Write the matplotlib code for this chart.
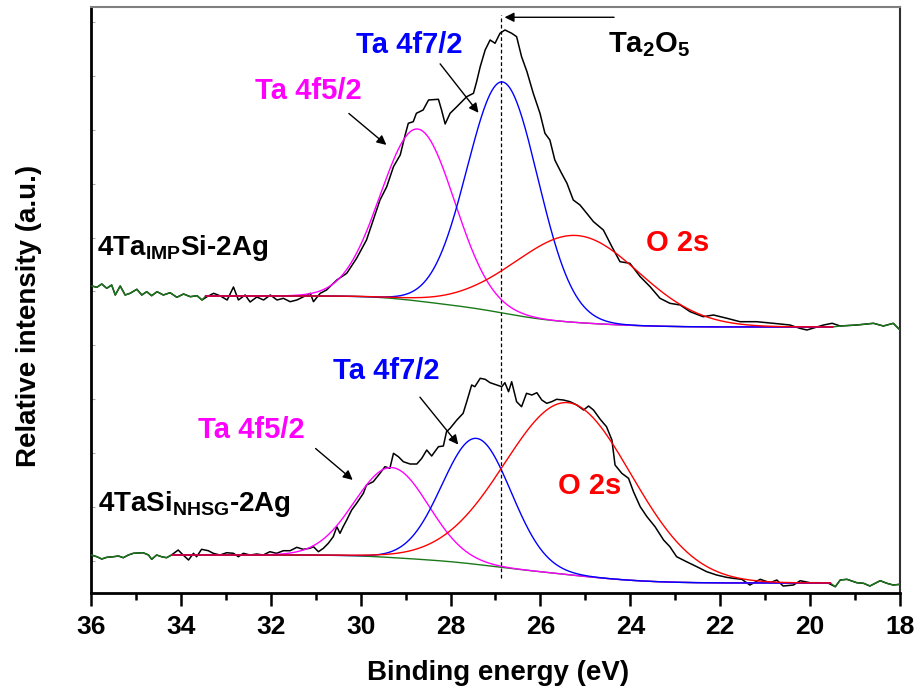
import numpy as np
import matplotlib
matplotlib.use("Agg")
import matplotlib.pyplot as plt

plt.rcParams['font.family'] = ['Liberation Sans', 'DejaVu Sans']
plt.rcParams['font.weight'] = 'bold'
plt.rcParams['mathtext.fontset'] = 'custom'
plt.rcParams['mathtext.rm'] = 'Liberation Sans:bold'
plt.rcParams['mathtext.it'] = 'Liberation Sans:bold'
plt.rcParams['mathtext.bf'] = 'Liberation Sans:bold'
plt.rcParams['mathtext.default'] = 'rm'

# ---- measured spectra (binding energy eV, intensity a.u.) ----
# 4Ta_IMP Si-2Ag (upper trace, plotted with offset)
imp_energy = [35.98, 35.87, 35.76, 35.65, 35.54, 35.46, 35.35, 35.24, 35.13, 34.98,
              34.87, 34.76, 34.65, 34.53, 34.39, 34.24, 34.09, 33.94, 33.79, 33.64,
              33.53, 33.42, 33.27, 33.12, 32.97, 32.83, 32.72, 32.57, 32.46, 32.31,
              32.16, 32.01, 31.86, 31.72, 31.57, 31.42, 31.27, 31.12, 31.05, 30.90,
              30.76, 30.53, 30.31, 30.09, 29.87, 29.72, 29.57, 29.42, 29.27, 29.12,
              29.01, 28.94, 28.83, 28.76, 28.61, 28.49, 28.27, 28.20, 28.12, 28.01,
              27.86, 27.64, 27.49, 27.42, 27.34, 27.23, 27.12, 27.01, 26.90, 26.79,
              26.64, 26.53, 26.42, 26.30, 26.16, 26.01, 25.90, 25.79, 25.68, 25.53,
              25.41, 25.27, 25.12, 24.97, 24.82, 24.60, 24.41, 24.23, 24.01, 23.78,
              23.56, 23.34, 23.12, 22.89, 22.67, 22.38, 22.15, 21.85, 21.56, 21.19,
              20.82, 20.45, 20.23, 20.07, 19.70, 19.51, 19.33, 18.96, 18.59, 18.37,
              18.15, 18.00]
imp_counts = [49, 47.7, 51, 46.7, 50, 40, 49, 40, 41.7, 45.7,
              40, 43.3, 39.3, 43.3, 40, 42.3, 37.7, 41, 38.3, 39.3,
              35, 38.3, 41.7, 39, 35, 48, 35, 40, 33, 38,
              35, 40, 35, 36.7, 33.3, 35, 38.3, 41.7, 33.3, 41.7,
              45, 55, 61.7, 76.7, 95, 115, 135, 148.3, 168.3, 180,
              200, 211.7, 213.3, 221.7, 225, 235, 235.7, 225, 211, 221.7,
              228.3, 238.3, 241.7, 253.3, 268.3, 285, 295, 291.7, 301.7, 305,
              301.7, 298.3, 278.3, 263.3, 241.7, 221.7, 201.7, 195, 175, 161.7,
              151.7, 135, 130, 121.7, 113.3, 105, 88.3, 73.3, 71.7, 58.3,
              48.3, 36.7, 31.7, 30, 23.3, 18.3, 20, 16.7, 13.3, 13.3,
              11.7, 10, 6.7, 5, 10, 11.7, 9, 10, 11.7, 9,
              11.7, 5]

# 4TaSi_NHSG-2Ag (lower trace)
nhsg_energy = [35.99, 35.87, 35.76, 35.65, 35.50, 35.39, 35.28, 35.17, 35.06, 34.84,
               34.72, 34.65, 34.54, 34.43, 34.32, 34.21, 34.06, 33.95, 33.83, 33.72,
               33.65, 33.54, 33.39, 33.28, 33.13, 32.98, 32.83, 32.72, 32.61, 32.46,
               32.31, 32.17, 32.02, 31.87, 31.72, 31.57, 31.42, 31.28, 31.13, 31.05,
               30.94, 30.83, 30.72, 30.61, 30.53, 30.46, 30.39, 30.31, 30.20, 30.09,
               29.94, 29.87, 29.72, 29.57, 29.46, 29.35, 29.27, 29.16, 29.05, 28.90,
               28.75, 28.64, 28.53, 28.42, 28.27, 28.16, 28.09, 28.01, 27.86, 27.72,
               27.64, 27.53, 27.46, 27.34, 27.23, 27.12, 26.97, 26.86, 26.79, 26.71,
               26.64, 26.53, 26.42, 26.31, 26.19, 26.08, 25.97, 25.86, 25.75, 25.64,
               25.49, 25.34, 25.19, 25.04, 24.93, 24.82, 24.67, 24.53, 24.41, 24.34,
               24.19, 24.04, 23.93, 23.78, 23.63, 23.45, 23.26, 23.12, 22.97, 22.75,
               22.52, 22.30, 22.08, 21.86, 21.71, 21.52, 21.34, 21.11, 20.89, 20.74,
               20.60, 20.37, 20.22, 20.00, 19.78, 19.59, 19.44, 19.33, 19.18, 18.96,
               18.81, 18.67, 18.44, 18.29, 18.15, 18.00]
nhsg_counts = [38, 36.3, 34, 35.7, 36.3, 37, 35.3, 38, 39.7, 40.3,
               38, 33.7, 38, 36.3, 35.3, 38, 43, 38, 33, 39.7,
               36.3, 43.7, 42.3, 39.7, 38, 40.3, 39.7, 36.3, 39.7, 38,
               39, 38, 41.3, 39.7, 42.3, 42.3, 45.7, 43.7, 44.7, 46.3,
               41.3, 44.7, 49.7, 56.3, 66.3, 59.7, 66.3, 73, 83, 89.7,
               99.7, 108, 111.3, 119.7, 126.3, 124.7, 139.7, 136.3, 131.3, 129,
               129, 134.7, 143, 137, 146.3, 147, 161.3, 164.7, 173, 179.7,
               191.3, 208, 206.3, 214.7, 213.7, 210.3, 208, 206.3, 210.3, 201.3,
               211.3, 191.3, 186.3, 199.7, 198, 200.3, 193, 189.7, 191.3, 193.7,
               193, 191.3, 188, 183, 187, 183, 173.7, 166.3, 153, 128,
               119.7, 114.7, 101.3, 86.3, 76.3, 66.3, 53, 46.3, 36.3, 31.3,
               26.3, 21.3, 18, 15.7, 14.7, 13.7, 8, 13.7, 10.3, 13,
               7, 8, 12.3, 10.3, 10.3, 9.7, 6.3, 13, 13.7, 10.3,
               9.7, 7, 12.3, 9.7, 8, 8.7]

# ---- fitted components: (centre eV, height, FWHM eV) ----
peak_names = ['Ta 4f5/2', 'Ta 4f7/2', 'O 2s']
peak_colors = ['#ff00ff', '#0000ff', '#ff0000']
imp_centers = [28.73, 26.84, 25.19]
imp_heights = [172, 231, 87]
imp_fwhm = [1.93, 1.85, 3.27]
nhsg_centers = [29.31, 27.42, 25.38]
nhsg_heights = [90, 126, 172]
nhsg_fwhm = [1.93, 1.81, 3.34]

# Shirley background end levels (high-BE side, low-BE side) and fit window
imp_bg_levels = (39, 8)
nhsg_bg_levels = (38, 10)
imp_window = (19.5, 33.45)
nhsg_window = (19.55, 34.2)

imp_offset = 258
ta2o5_position = 26.87


def components(centers, heights, fwhm, e):
    out = []
    for c, h, w in zip(centers, heights, fwhm):
        s = w / 2.3548
        out.append(h * np.exp(-0.5 * ((e - c) / s) ** 2))
    return out


def draw_spectrum(ax, energy, counts, centers, heights, fwhm, levels, window, offset):
    energy = np.asarray(energy)
    counts = np.asarray(counts) + offset
    lo, hi = window
    e = np.linspace(lo, hi, 700)
    comps = components(centers, heights, fwhm, e)
    total = np.sum(comps, axis=0)
    cum = np.cumsum(total)
    cum = cum / cum[-1]
    bg = levels[1] + (levels[0] - levels[1]) * cum + offset

    ax.plot(energy, counts, color='black', lw=1.1, zorder=2)

    # baseline: raw data outside the fit window, Shirley inside it
    left = energy > hi
    right = energy < lo
    gx = np.concatenate([energy[left], e[::-1], energy[right]])
    gy = np.concatenate([counts[left], bg[::-1], counts[right]])
    ax.plot(gx, gy, color='#1a7a1a', lw=1.0, zorder=3)

    for comp, col in zip(comps, peak_colors):
        ax.plot(e, comp + bg, color=col, lw=1.0, zorder=4)


fig = plt.figure(figsize=(9.21, 6.91), dpi=100)
ax = fig.add_axes([0.0988, 0.1418, 0.8784, 0.8481])

draw_spectrum(ax, imp_energy, imp_counts, imp_centers, imp_heights, imp_fwhm,
              imp_bg_levels, imp_window, imp_offset)
draw_spectrum(ax, nhsg_energy, nhsg_counts, nhsg_centers, nhsg_heights, nhsg_fwhm,
              nhsg_bg_levels, nhsg_window, 0)

ax.axvline(ta2o5_position, ymin=0.026, ymax=0.986, color='black', lw=0.9,
           ls=(0, (3, 2)), zorder=1)

ax.set_xlim(36, 18)
ax.set_ylim(0, 586)
ax.set_xticks(np.arange(36, 17, -2))
ax.set_xticks(np.arange(35, 18, -2), minor=True)
ax.set_yticks(np.arange(32, 586, 53.9))
ax.tick_params(axis='x', which='major', direction='out', length=9, width=1.8,
               labelsize=19, pad=7)
ax.tick_params(axis='x', which='minor', direction='out', length=5, width=1.8)
ax.tick_params(axis='y', direction='in', length=3, width=0.8, color='#aaaaaa',
               labelleft=False)
for lab in ax.get_xticklabels():
    lab.set_fontweight('bold')

ax.spines['left'].set_linewidth(2)
ax.spines['bottom'].set_linewidth(2)
ax.spines['top'].set_color('#808080')
ax.spines['top'].set_linewidth(1.5)
ax.spines['right'].set_color('#303030')
ax.spines['right'].set_linewidth(1.5)

ax.set_xlabel('Binding energy (eV)', fontsize=20, fontweight='bold')
ax.set_ylabel('Relative intensity (a.u.)', fontsize=20, fontweight='bold')
ax.xaxis.set_label_coords(0.503, -0.115)
ax.yaxis.set_label_coords(-0.06, 0.473)

# labels and arrows
arrow = dict(arrowstyle='-|>', color='black', lw=1.0, mutation_scale=14)
txt = dict(fontsize=21, fontweight='bold', va='baseline')

ax.text(28.92, 540, peak_names[1], color=peak_colors[1], ha='center', **txt)
ax.annotate('', xy=(27.34, 478), xytext=(28.27, 531.3), arrowprops=arrow)
ax.text(31.16, 494, peak_names[0], color=peak_colors[0], ha='center', **txt)
ax.annotate('', xy=(29.38, 446.3), xytext=(30.31, 481.3), arrowprops=arrow)
ax.text(22.95, 342, peak_names[2], color=peak_colors[2], ha='center', **txt)
ax.text(24.49, 541, r'Ta$_2$O$_5$', color='black', ha='left', **txt)
ax.annotate('', xy=(26.86, 575.7), xytext=(24.30, 575.7), arrowprops=arrow)

ax.text(29.42, 214, peak_names[1], color=peak_colors[1], ha='center', **txt)
ax.annotate('', xy=(27.79, 146.3), xytext=(28.72, 198), arrowprops=arrow)
ax.text(32.44, 155, peak_names[0], color=peak_colors[0], ha='center', **txt)
ax.annotate('', xy=(30.13, 111.3), xytext=(31.05, 146.3), arrowprops=arrow)
ax.text(24.91, 99, peak_names[2], color=peak_colors[2], ha='center', **txt)

ax.text(35.87, 338, r'4Ta$_{IMP}$Si-2Ag', fontsize=20, fontweight='bold',
        ha='left', va='baseline')
ax.text(35.84, 82, r'4TaSi$_{NHSG}$-2Ag', fontsize=20, fontweight='bold',
        ha='left', va='baseline')

fig.savefig('out.png', dpi=100)
